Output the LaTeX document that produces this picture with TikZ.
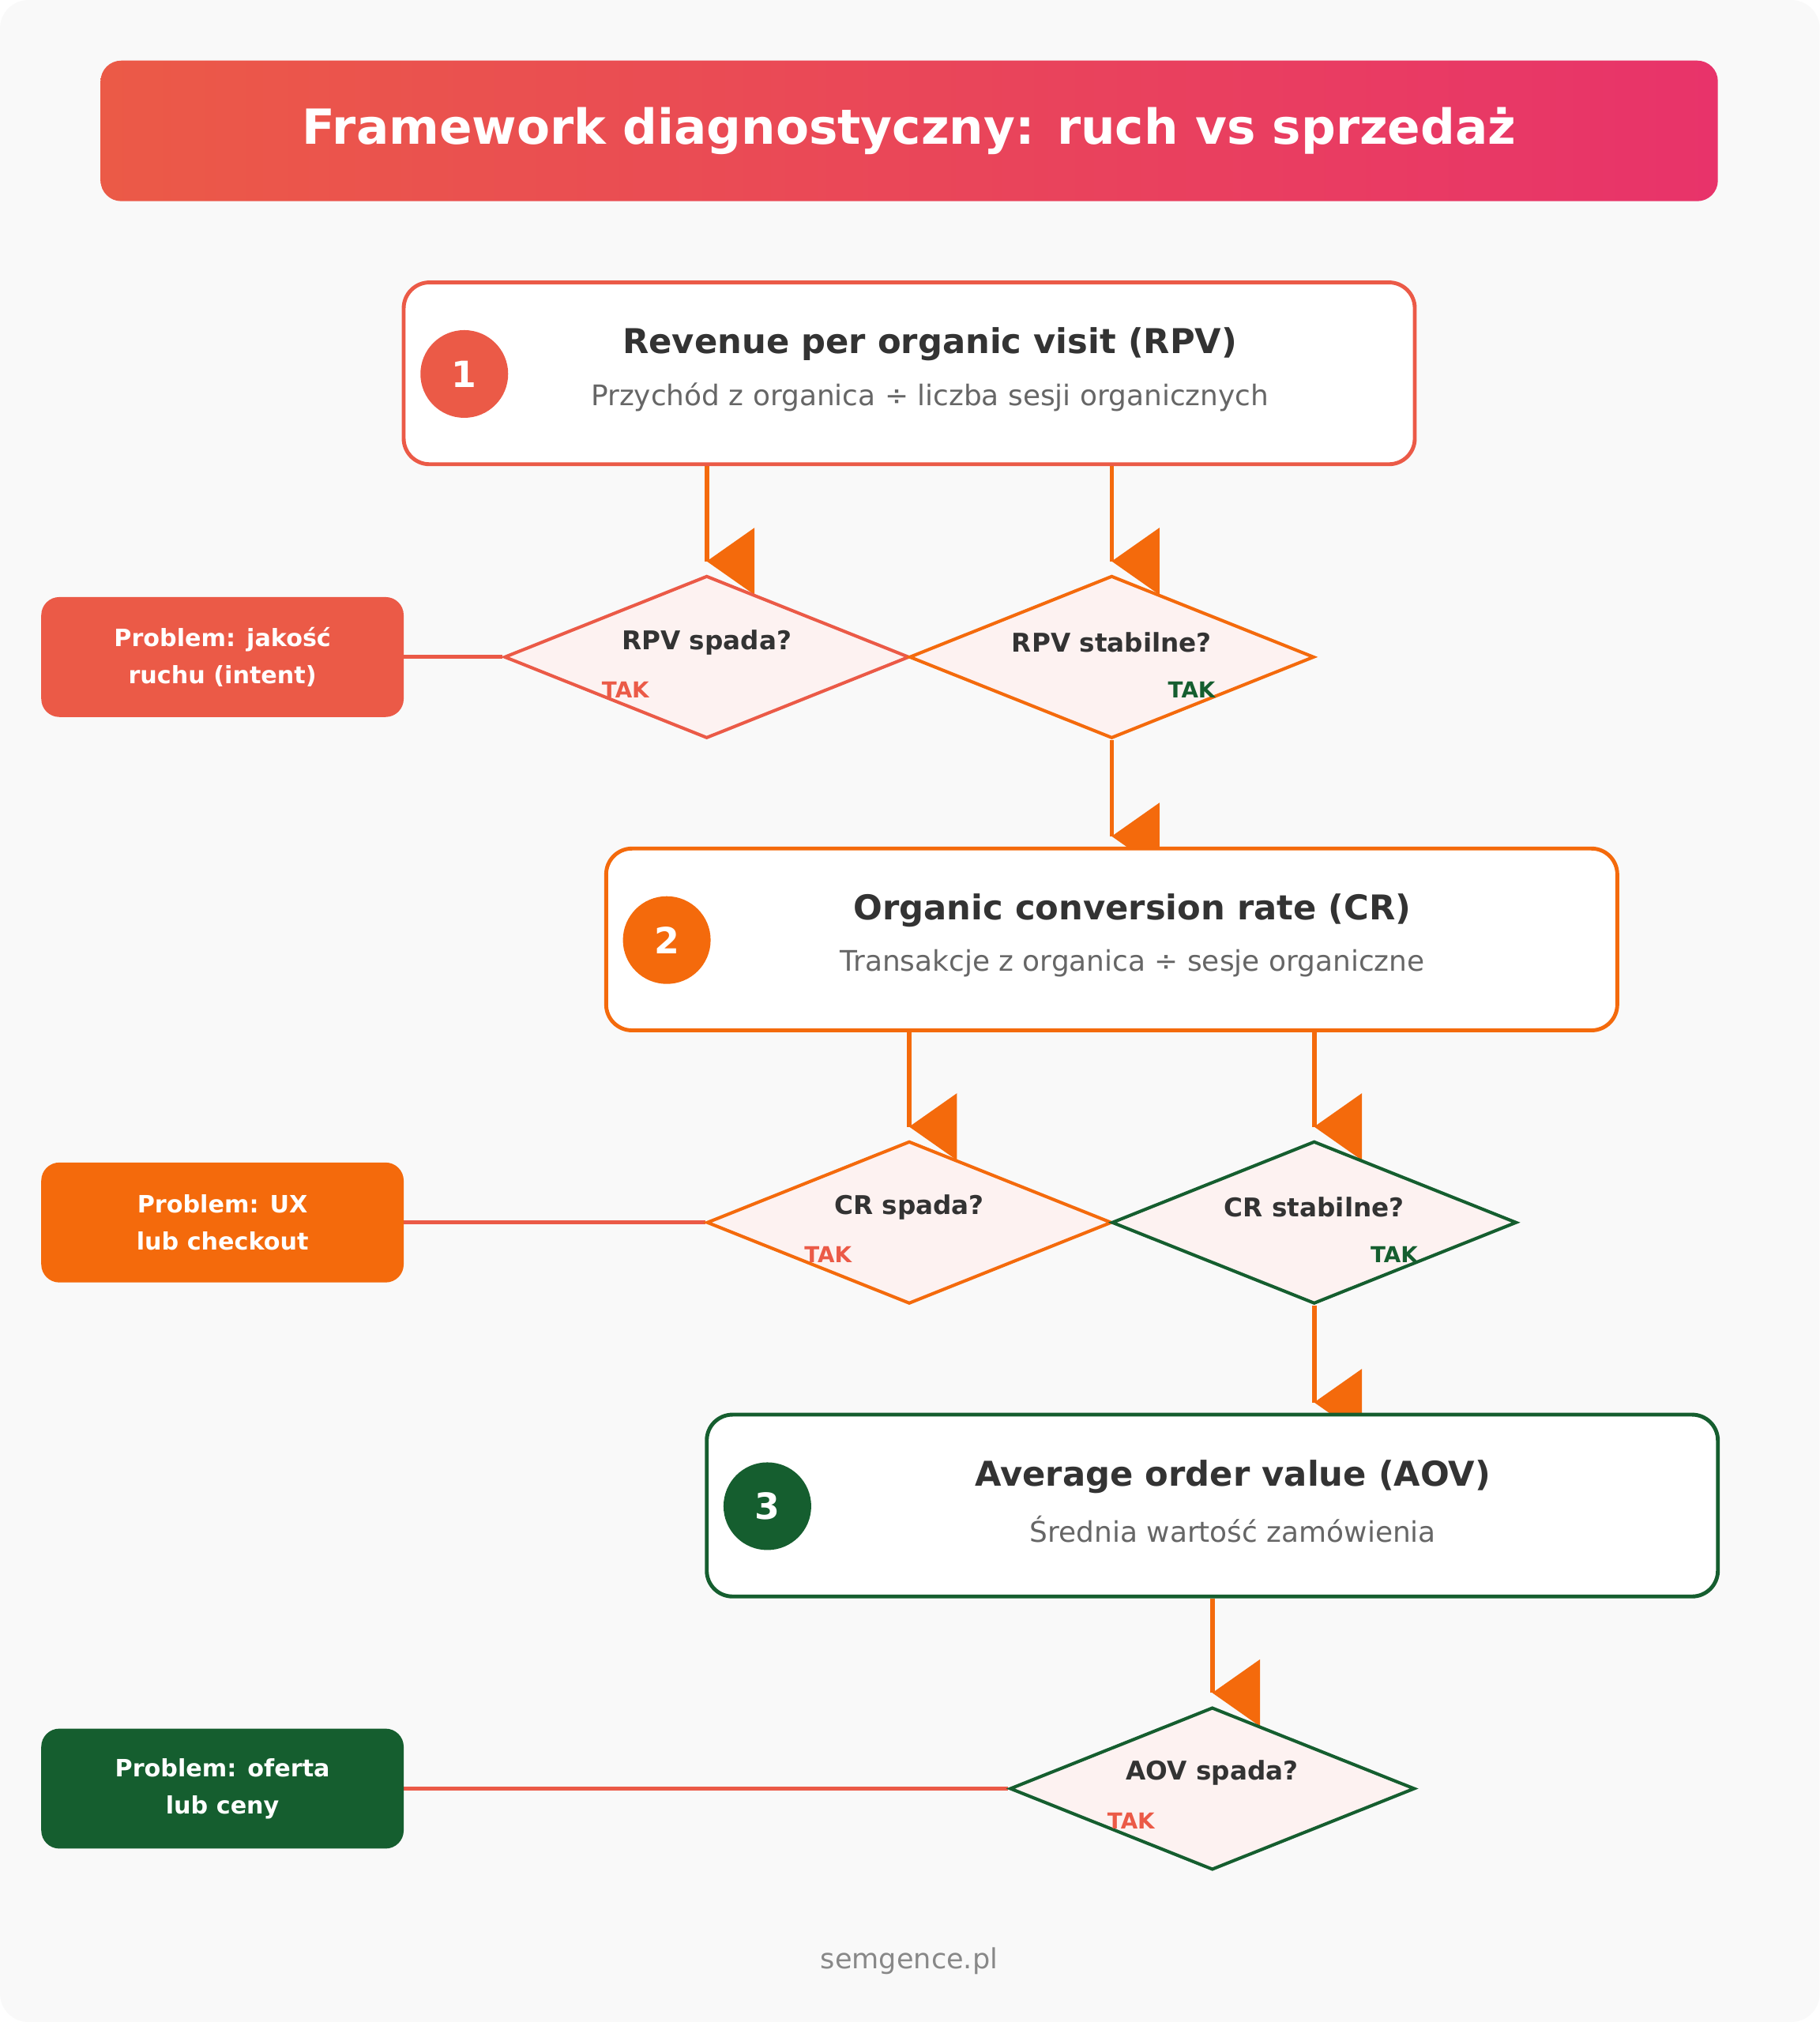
\documentclass[tikz,border=0pt]{standalone}
\usepackage{fontspec}
\setmainfont{DejaVu Sans}
\usetikzlibrary{shapes.geometric}
\definecolor{brandred}{HTML}{EB5A47}
\definecolor{brandorange}{HTML}{F46A0C}
\definecolor{brandgreen}{HTML}{155E2F}
\definecolor{brandpink}{HTML}{E8336A}
\definecolor{softfill}{HTML}{FDF2F1}
\definecolor{canvasgray}{HTML}{F9F9F9}
\definecolor{inkdark}{HTML}{333333}
\definecolor{inkgray}{HTML}{666666}
\definecolor{inklight}{HTML}{888888}
\pgfdeclarelayer{canvas}
\pgfdeclarelayer{wires}
\pgfsetlayers{canvas,wires,main}
\tikzset{
  titlebar/.style={rounded corners=16pt, minimum width=1254pt, minimum height=109pt,
    left color=brandred, right color=brandpink, text=white,
    font=\bfseries\fontsize{37.5}{40}\selectfont},
  card/.style={draw, line width=3pt, fill=white, rounded corners=20pt,
    minimum width=784pt, minimum height=141pt},
  num/.style={circle, minimum size=68pt, inner sep=0pt, text=white,
    font=\bfseries\fontsize{28}{28}\selectfont},
  head/.style={text=inkdark, font=\bfseries\fontsize{26.5}{30}\selectfont},
  sub/.style={text=inkgray, font=\fontsize{22}{26}\selectfont},
  dia/.style={diamond, draw, line width=2.5pt, fill=softfill,
    minimum width=314pt, minimum height=126pt, inner sep=0pt},
  ask/.style={text=inkdark, font=\bfseries\fontsize{20}{24}\selectfont},
  yes/.style={font=\bfseries\fontsize{17}{20}\selectfont},
  prob/.style={rounded corners=14pt, minimum width=281pt, minimum height=93pt,
    text=white, align=center, font=\bfseries\fontsize{18.5}{29}\selectfont},
  foot/.style={text=inklight, font=\fontsize{21.5}{26}\selectfont},
  feed/.style={draw=brandorange, line width=3.5pt},
  tie/.style={draw=brandred, line width=3pt},
  flag/.pic={\fill[brandorange, draw=none] (0,0) -- (37,-26) -- (37,26) -- cycle;}
}
\begin{document}
\begin{tikzpicture}[x=1pt,y=-1pt]
\useasboundingbox (0,0) rectangle (1411,1568);
\begin{pgfonlayer}{canvas}
  \fill[canvasgray, rounded corners=22pt] (0,0) rectangle (1411,1568);
\end{pgfonlayer}

% naglowek
\node[titlebar] (title) at (705,101.5) {Framework diagnostyczny: ruch vs sprzedaż};

% krok 1: RPV
\node[card, draw=brandred] (b1) at (705,289.5) {};
\node[num, fill=brandred] (n1) at (360,290) {1};
\node[head] (h1) at (721,267) {Revenue per organic visit (RPV)};
\node[sub] (s1) at (721,308) {Przychód z organica ÷ liczba sesji organicznych};

\node[dia, draw=brandred] (d1) at (548,509.5) {};
\node[ask] (q1) at (548,498) {RPV spada?};
\node[yes, text=brandred] (y1) at (485,535) {TAK};
\node[dia, draw=brandorange] (d2) at (862,509.5) {};
\node[ask] (q2) at (862,498) {RPV stabilne?};
\node[yes, text=brandgreen] (y2) at (924,535) {TAK};
\node[prob, fill=brandred] (p1) at (172.5,509.5) {Problem: jakość\\ruchu (intent)};

% krok 2: CR
\node[card, draw=brandorange] (b2) at (862,728.5) {};
\node[num, fill=brandorange] (n2) at (517,729) {2};
\node[head] (h2) at (878,706) {Organic conversion rate (CR)};
\node[sub] (s2) at (878,747) {Transakcje z organica ÷ sesje organiczne};

\node[dia, draw=brandorange] (d3) at (705,948) {};
\node[ask] (q3) at (705,936) {CR spada?};
\node[yes, text=brandred] (y3) at (642,973) {TAK};
\node[dia, draw=brandgreen] (d4) at (1019,948) {};
\node[ask] (q4) at (1019,936) {CR stabilne?};
\node[yes, text=brandgreen] (y4) at (1081,973) {TAK};
\node[prob, fill=brandorange] (p2) at (172.5,948) {Problem: UX\\lub checkout};

% krok 3: AOV
\node[card, draw=brandgreen] (b3) at (940,1167.5) {};
\node[num, fill=brandgreen] (n3) at (595,1168) {3};
\node[head] (h3) at (956,1145) {Average order value (AOV)};
\node[sub] (s3) at (956,1186) {Średnia wartość zamówienia};

\node[dia, draw=brandgreen] (d5) at (940,1387) {};
\node[ask] (q5) at (940,1375) {AOV spada?};
\node[yes, text=brandred] (y5) at (877,1412) {TAK};
\node[prob, fill=brandgreen] (p3) at (172.5,1387) {Problem: oferta\\lub ceny};

\node[foot] (web) at (705,1521) {semgence.pl};

% polaczenia
\begin{pgfonlayer}{wires}
  \coordinate (t1) at ([yshift=10pt]d1.north);
  \coordinate (t2) at ([yshift=10pt]d2.north);
  \coordinate (t3) at ([yshift=8pt]b2.north -| d2.south);
  \coordinate (t4) at ([yshift=10pt]d3.north);
  \coordinate (t5) at ([yshift=10pt]d4.north);
  \coordinate (t6) at ([yshift=8pt]b3.north -| d4.south);
  \coordinate (t7) at ([yshift=10pt]d5.north);
  \draw[feed] (b1.south -| t1) -- (t1) pic {flag};
  \draw[feed] (b1.south -| t2) -- (t2) pic {flag};
  \draw[feed] (d2.south) -- (t3) pic {flag};
  \draw[feed] (b2.south -| t4) -- (t4) pic {flag};
  \draw[feed] (b2.south -| t5) -- (t5) pic {flag};
  \draw[feed] (d4.south) -- (t6) pic {flag};
  \draw[feed] (b3.south -| t7) -- (t7) pic {flag};
  \draw[tie] (p1.east) -- (d1.west);
  \draw[tie] (p2.east) -- (d3.west);
  \draw[tie] (p3.east) -- (d5.west);
\end{pgfonlayer}
\end{tikzpicture}
\end{document}
